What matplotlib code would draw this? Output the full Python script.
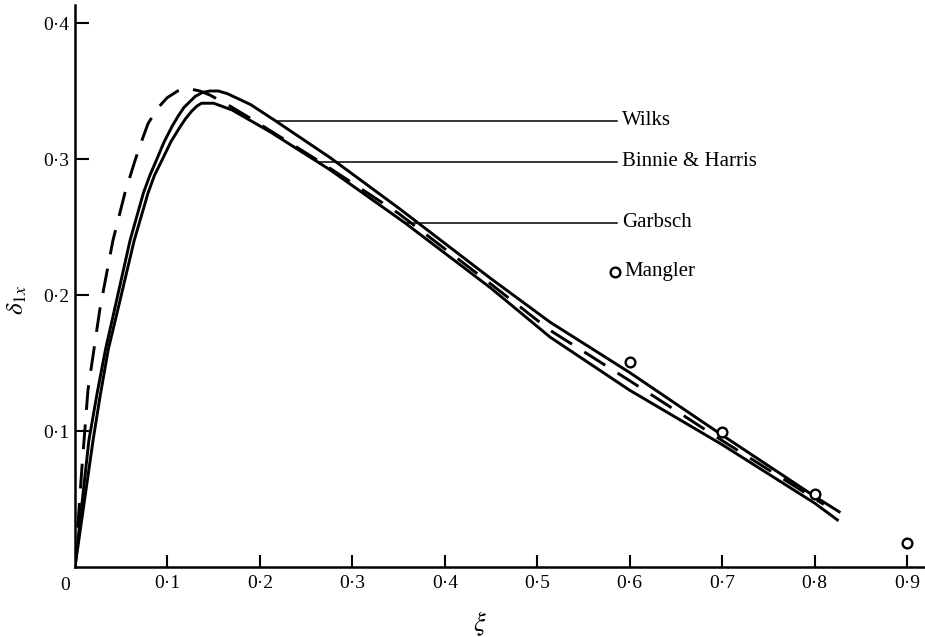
import numpy as np
import matplotlib.pyplot as plt

plt.rcParams['font.family'] = ['Liberation Serif', 'DejaVu Serif']
plt.rcParams['mathtext.fontset'] = 'stix'

# Wilks (upper solid curve)
wilks_xi = [0, 0.015, 0.024, 0.033, 0.043, 0.0595, 0.074, 0.081, 0.088, 0.096, 0.105, 0.112,
            0.118, 0.124, 0.130, 0.138, 0.146, 0.155, 0.165, 0.19, 0.217, 0.276, 0.35, 0.40,
            0.45, 0.514, 0.6, 0.7, 0.8, 0.828]
wilks_delta = [0, 0.093, 0.128, 0.160, 0.190, 0.240, 0.275, 0.288, 0.299, 0.312, 0.324, 0.332,
               0.338, 0.342, 0.346, 0.349, 0.350, 0.350, 0.348, 0.340, 0.328, 0.301, 0.264, 0.238,
               0.212, 0.180, 0.143, 0.097, 0.052, 0.040]

# Binnie & Harris (dashed curve)
binnie_xi = [0, 0.0076, 0.014, 0.027, 0.041, 0.054, 0.065, 0.072, 0.079, 0.089, 0.0996, 0.111,
             0.121, 0.135, 0.146, 0.165, 0.192, 0.265, 0.35, 0.45, 0.514, 0.6, 0.7, 0.81]
binnie_delta = [0, 0.074, 0.130, 0.190, 0.240, 0.275, 0.299, 0.313, 0.326, 0.337, 0.345, 0.350,
                0.352, 0.350, 0.347, 0.340, 0.329, 0.298, 0.260, 0.208, 0.174, 0.137, 0.093, 0.046]

# Garbsch (lower solid curve)
garbsch_xi = [0, 0.0195, 0.027, 0.036, 0.0466, 0.064, 0.079, 0.086, 0.094, 0.104, 0.114, 0.120,
              0.126, 0.132, 0.137, 0.143, 0.15, 0.17, 0.211, 0.276, 0.357, 0.45, 0.514, 0.6,
              0.7, 0.8, 0.826]
garbsch_delta = [0, 0.093, 0.125, 0.160, 0.190, 0.240, 0.275, 0.288, 0.299, 0.313, 0.324, 0.330,
                 0.335, 0.339, 0.341, 0.341, 0.341, 0.336, 0.320, 0.292, 0.253, 0.205, 0.169,
                 0.130, 0.090, 0.047, 0.034]

# Mangler (points)
mangler_xi = [0.6, 0.7, 0.8, 0.9]
mangler_delta = [0.151, 0.099, 0.054, 0.018]

# labels and the level where their leader lines meet the curves
curve_names = ['Wilks', 'Binnie & Harris', 'Garbsch']
leader_levels = [0.328, 0.298, 0.253]

x_ticks = [0.1, 0.2, 0.3, 0.4, 0.5, 0.6, 0.7, 0.8, 0.9]
x_ticklabels = ['0·1', '0·2', '0·3', '0·4', '0·5', '0·6', '0·7', '0·8', '0·9']
y_ticks = [0.1, 0.2, 0.3, 0.4]
y_ticklabels = ['0·1', '0·2', '0·3', '0·4']

fig = plt.figure(figsize=(9.25, 6.37), dpi=100)
ax = fig.add_axes([75 / 925, 70 / 637, 850 / 925, 562 / 637])

lw = 2.1
ax.plot(wilks_xi, wilks_delta, color='black', lw=lw, solid_capstyle='butt',
        solid_joinstyle='round')
ax.plot(garbsch_xi, garbsch_delta, color='black', lw=lw, solid_capstyle='butt',
        solid_joinstyle='round')
ax.plot(binnie_xi, binnie_delta, color='black', lw=lw, linestyle=(0, (8.5, 5)),
        dash_capstyle='butt')
ax.plot(mangler_xi, mangler_delta, 'o', ms=7, mfc='white', mec='black', mew=1.7,
        clip_on=False, zorder=5)

# leader lines from the descending branch of each curve to its label
label_x = 0.586
curves = [(wilks_xi, wilks_delta), (binnie_xi, binnie_delta), (garbsch_xi, garbsch_delta)]
for name, level, (cx, cy) in zip(curve_names, leader_levels, curves):
    cx = np.array(cx)
    cy = np.array(cy)
    k = int(np.argmax(cy))
    start = np.interp(level, cy[k:][::-1], cx[k:][::-1])
    ax.plot([start, label_x], [level, level], color='black', lw=1.1)
    ax.text(label_x + 0.006, level, name, fontsize=15, va='center', ha='left')

# Mangler key
ax.plot([0.584], [0.217], 'o', ms=7, mfc='white', mec='black', mew=1.7)
ax.text(0.594, 0.217, 'Mangler', fontsize=15, va='center', ha='left')

ax.set_xlim(0, 850 / 924.4)
ax.set_ylim(0, 562 / 1360)

for side in ['top', 'right']:
    ax.spines[side].set_visible(False)
for side in ['left', 'bottom']:
    ax.spines[side].set_linewidth(1.8)

ax.set_xticks(x_ticks)
ax.set_xticklabels(x_ticklabels, fontsize=14)
ax.set_yticks(y_ticks)
ax.set_yticklabels(y_ticklabels, fontsize=14)
ax.tick_params(axis='x', direction='in', length=8.5, width=1.5, pad=6)
ax.tick_params(axis='y', direction='in', length=10, width=1.5, pad=4)

fig.text(65 / 925, 1 - 585 / 637, '0', fontsize=14, ha='center', va='center')
fig.text(480 / 925, 1 - 624 / 637, r'$\xi$', fontsize=19, ha='center', va='center')
fig.text(17 / 925, 1 - 300 / 637, r'$\delta_{1x}$', fontsize=18, ha='center', va='center',
         rotation=90)

fig.savefig('out.png', dpi=100)
